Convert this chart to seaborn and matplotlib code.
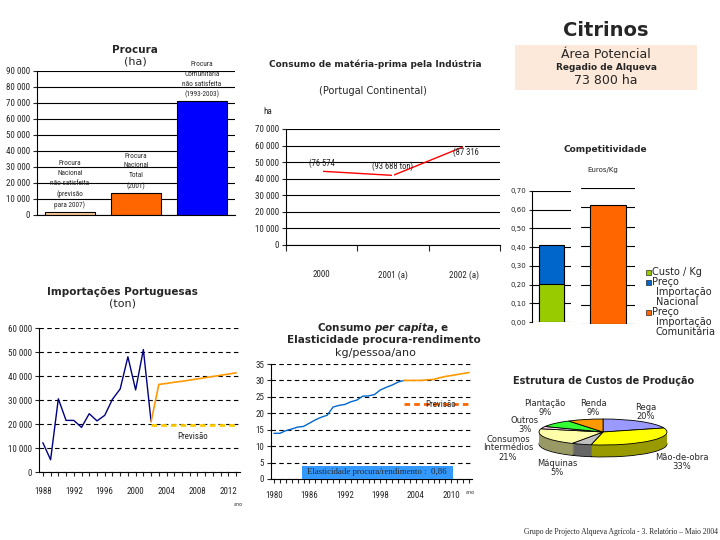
import numpy as np
import pandas as pd
import seaborn as sns
import matplotlib.pyplot as plt
from matplotlib import font_manager
from matplotlib.patches import Rectangle
from matplotlib.ticker import FuncFormatter, MultipleLocator

sns.set_style("white")
plt.rcParams["font.family"] = ["DejaVu Sans"]
SERIF = ["Liberation Serif", "DejaVu Serif"]

# fonte estreita, se houver
_nomes = {f.name for f in font_manager.fontManager.ttflist}
_estreita = next((n for n in ["Liberation Sans Narrow", "DejaVu Sans Condensed",
                              "Roboto Condensed", "Open Sans Condensed", "Noto Sans Condensed"]
                  if n in _nomes), None)
NARROW = [_estreita, "DejaVu Sans"] if _estreita else ["DejaVu Sans"]
NS = 6.5 if _estreita else 5.6

# ---- dados ----
procura_cat = ["Nacional não satisfeita", "Nacional Total", "Comunitária não satisfeita"]
procura_val = [2000, 14000, 71000]
procura_txt = ["Procura\nNacional\nnão satisfeita\n(previsão\npara 2007)",
               "Procura\nNacional\nTotal\n(2001)",
               "Procura\nComunitária\nnão satisfeita\n(1993-2003)"]
procura_cor = ["#FFCC99", "#FF6600", "#0000FF"]

mp_anos = ["2000", "2001 (a)", "2002 (a)"]
mp_val = [44500, 42000, 59500]
mp_txt = ["(76 574", "(93 688 ton)", "(87 316"]

comp_custo = 0.205
comp_nacional = 0.41
comp_comunitaria = 0.615
comp_legenda = ["Custo / Kg", "Preço\nImportação\nNacional", "Preço\nImportação\nComunitária"]
comp_cor = ["#99CC00", "#0066CC", "#FF6600"]

imp_anos = [1988, 1989, 1990, 1991, 1992, 1993, 1994, 1995, 1996, 1997, 1998, 1999, 2000, 2001, 2002]
imp_val = [12200, 5100, 30500, 21500, 21500, 18600, 24300, 21300, 23600, 30300, 34600, 48000, 34200, 51000, 21000]
imp_prev_anos = [2002, 2003, 2004, 2005, 2006, 2007, 2008, 2009, 2010, 2011, 2012, 2013]
imp_prev_alta = [21000, 36500, 36900, 37400, 37800, 38300, 38800, 39300, 39800, 40300, 40800, 41300]
imp_prev_baixa = [19500, 19500, 19500, 19500, 19500, 19500, 19500, 19500, 19500, 19500, 19500, 19500]

pc_anos = [1980, 1981, 1982, 1983, 1984, 1985, 1986, 1987, 1988, 1989, 1990, 1991,
           1992, 1993, 1994, 1995, 1996, 1997, 1998, 1999, 2000, 2001, 2002]
pc_val = [13.9, 13.9, 14.7, 15.2, 15.8, 16.0, 17.0, 18.0, 18.8, 19.4, 21.9, 22.4,
          22.7, 23.5, 24.0, 25.2, 25.3, 25.7, 27.1, 27.9, 28.6, 29.5, 30.0]
pc_prev_anos = [2002, 2003, 2004, 2005, 2006, 2007, 2008, 2009, 2010, 2011, 2012, 2013]
pc_prev_alta = [30.0, 30.0, 30.0, 30.0, 30.2, 30.3, 30.8, 31.2, 31.5, 31.8, 32.1, 32.4]
pc_prev_baixa = [22.7, 22.7, 22.7, 22.7, 22.7, 22.7, 22.7, 22.7, 22.7, 22.7, 22.7, 22.7]

custos_cat = ["Rega", "Mão-de-obra", "Máquinas", "Consumos\nIntermédios", "Outros", "Plantação", "Renda"]
custos_val = [20, 33, 5, 21, 3, 9, 9]
custos_cor = ["#9999FF", "#FFFF00", "#C0C0C0", "#FFFFAA", "#FFCCEE", "#33FF33", "#FF9900"]
custos_lado = ["#5C5C99", "#999900", "#666666", "#999966", "#997A8F", "#1F991F", "#995C00"]

W, H = 720, 540
fig = plt.figure(figsize=(7.2, 5.4), dpi=100)


def px(l, t, r, b):
    return [l / W, 1 - b / H, (r - l) / W, (b - t) / H]


def ftext(x, y, s, **kw):
    kw.setdefault("ha", "center")
    kw.setdefault("va", "center")
    return fig.text(x / W, 1 - y / H, s, **kw)


milhares = FuncFormatter(lambda v, p: f"{v:,.0f}".replace(",", " "))
virgula = FuncFormatter(lambda v, p: f"{v:.2f}".replace(".", ","))


def estilo_eixo(ax):
    for s in ["top", "right"]:
        ax.spines[s].set_visible(False)
    for s in ["left", "bottom"]:
        ax.spines[s].set_color("black")
        ax.spines[s].set_linewidth(0.8)
    ax.set_xlabel("")
    ax.set_ylabel("")


def estreitar(ax):
    for lab in ax.get_yticklabels() + ax.get_xticklabels():
        lab.set_family(NARROW)
        lab.set_fontsize(NS)


# ---- Procura ----
ax = fig.add_axes(px(37, 71, 235, 215))
sns.barplot(x=procura_cat, y=procura_val, hue=procura_cat, palette=procura_cor,
            legend=False, width=0.75, edgecolor="black", linewidth=0.8, saturation=1, ax=ax)
estilo_eixo(ax)
ax.set_ylim(0, 90000)
ax.set_xlim(-0.5, 2.5)
ax.yaxis.set_major_locator(MultipleLocator(10000))
ax.yaxis.set_major_formatter(milhares)
ax.yaxis.grid(True, color="black", lw=0.8)
ax.set_axisbelow(True)
ax.set_xticks([])
ax.tick_params(axis="y", left=True, length=3, width=0.8, pad=2)
estreitar(ax)
for i, (v, t) in enumerate(zip(procura_val, procura_txt)):
    ax.annotate(t, (i, v), xytext=(0, 2), textcoords="offset points", ha="center",
                va="bottom", fontsize=5.2, family=NARROW, linespacing=1.55)
ftext(135, 50, "Procura", fontsize=7.5, weight="bold")
ftext(135, 62, "(ha)", fontsize=8)

# ---- Consumo de matéria-prima ----
ax = fig.add_axes(px(286, 129, 500, 245))
sns.lineplot(x=mp_anos, y=mp_val, sort=False, color="red", lw=1, marker="|",
             markersize=6, mew=1.5, ax=ax)
estilo_eixo(ax)
ax.set_xlim(-0.5, 2.5)
ax.set_ylim(0, 70000)
ax.yaxis.set_major_locator(MultipleLocator(10000))
ax.yaxis.set_major_formatter(milhares)
ax.yaxis.grid(True, color="black", lw=0.8)
ax.set_xticks([0, 1, 2])
ax.set_xticklabels(mp_anos)
ax.set_xticks([-0.5, 0.5, 1.5, 2.5], minor=True)
ax.tick_params(axis="x", which="major", length=0, pad=18)
ax.tick_params(axis="x", which="minor", bottom=True, length=4, width=0.8)
ax.tick_params(axis="y", left=True, length=3, width=0.8, pad=2)
estreitar(ax)
for i, (v, t) in enumerate(zip(mp_val, mp_txt)):
    if i < 2:
        ax.annotate(t, (i, v), xytext=(0, 2 + i), textcoords="offset points", ha="center",
                    va="bottom", fontsize=NS - 0.3, family=NARROW)
    else:
        ax.annotate(t, (i, v), xytext=(1, -1), textcoords="offset points", ha="center",
                    va="top", fontsize=NS - 0.3, family=NARROW)
ftext(375, 64, "Consumo de matéria-prima pela Indústria", fontsize=6.5, weight="bold")
ftext(373, 91, "(Portugal Continental)", fontsize=7)
ftext(268, 112, "ha", fontsize=NS, family=NARROW)

# ---- Citrinos ----
ftext(606, 30, "Citrinos", fontsize=14, weight="bold")
fig.patches.append(Rectangle((515 / W, 1 - 90 / H), 182 / W, 45 / H, transform=fig.transFigure,
                             facecolor="#FDE9D9", edgecolor="none"))
ftext(606, 55, "Área Potencial", fontsize=9)
ftext(606, 68, "Regadio de Alqueva", fontsize=6.5, weight="bold")
ftext(606, 80, "73 800 ha", fontsize=9)

# ---- Competitividade ----
ax = fig.add_axes(px(532, 191, 571, 322))
sns.barplot(x=["Nacional"], y=[comp_nacional], color=comp_cor[1], width=0.62,
            edgecolor="black", linewidth=0.8, saturation=1, ax=ax)
sns.barplot(x=["Nacional"], y=[comp_custo], color=comp_cor[0], width=0.62,
            edgecolor="black", linewidth=0.8, saturation=1, ax=ax)
estilo_eixo(ax)
ax.spines["bottom"].set_visible(False)
ax.set_ylim(0, 0.70)
ax.set_xlim(-0.5, 0.5)
ax.yaxis.set_major_locator(MultipleLocator(0.1))
ax.yaxis.set_major_formatter(virgula)
ax.yaxis.grid(True, color="black", lw=0.8)
ax.set_axisbelow(True)
ax.set_xticks([])
ax.tick_params(axis="y", left=True, length=2, width=0.8, labelsize=5, pad=2)

ax = fig.add_axes(px(581, 188, 635, 324))
sns.barplot(x=["Comunitária"], y=[comp_comunitaria], color=comp_cor[2], width=0.66,
            edgecolor="black", linewidth=0.8, saturation=1, ax=ax)
ax.set_ylim(0, 0.70)
ax.set_xlim(-0.5, 0.5)
ax.yaxis.set_major_locator(MultipleLocator(0.1))
ax.yaxis.grid(True, color="black", lw=0.8)
ax.set_axisbelow(True)
ax.set_xticks([])
ax.set_yticklabels([])
ax.set_xlabel("")
ax.set_ylabel("")
for s in ax.spines.values():
    s.set_visible(False)

ftext(605, 150, "Competitividade", fontsize=6.5, weight="bold")
ftext(603, 170, "Euros/Kg", fontsize=5)
linha = 10
y0 = 267
for t, c in zip(comp_legenda, comp_cor):
    partes = t.split("\n")
    fig.patches.append(Rectangle((646 / W, 1 - (y0 + 8) / H), 5 / W, 5 / H,
                                 transform=fig.transFigure, facecolor=c,
                                 edgecolor="black", linewidth=0.4))
    for k, p in enumerate(partes):
        ftext(652 if k == 0 else 656, y0 + k * linha, p, fontsize=7, ha="left", va="top")
    y0 += linha * len(partes)

# ---- Importações ----
ax = fig.add_axes(px(39, 328, 240, 472))
sns.lineplot(x=imp_anos, y=imp_val, color="#000080", lw=1, ax=ax)
sns.lineplot(x=imp_prev_anos, y=imp_prev_alta, color="#FF9900", lw=1.2, ax=ax)
sns.lineplot(x=imp_prev_anos, y=imp_prev_baixa, color="#FFCC00", lw=2, ls=(0, (2, 1.5)), ax=ax)
estilo_eixo(ax)
ax.set_xlim(1987.5, 2013.5)
ax.set_ylim(0, 60000)
ax.yaxis.set_major_locator(MultipleLocator(10000))
ax.yaxis.set_major_formatter(milhares)
ax.yaxis.grid(True, color="black", lw=0.8, ls=(0, (4, 3)))
ax.set_xticks(range(1988, 2013, 4))
ax.xaxis.set_minor_locator(MultipleLocator(1))
ax.tick_params(axis="x", which="both", bottom=True, length=3, width=0.8, pad=8)
ax.tick_params(axis="y", left=True, length=3, width=0.8, pad=2)
estreitar(ax)
ax.text(2007.4, 14600, "Previsão", ha="center", va="center", fontsize=NS, family=NARROW)
ftext(122, 292, "Importações Portuguesas", fontsize=7.5, weight="bold")
ftext(122, 304, "(ton)", fontsize=8)
ftext(238, 504, "ano", fontsize=3.5)

# ---- Consumo per capita ----
ax = fig.add_axes(px(271, 364, 472, 479))
sns.lineplot(x=pc_anos, y=pc_val, color="#0066CC", lw=1, ax=ax)
sns.lineplot(x=pc_prev_anos, y=pc_prev_alta, color="#FF9900", lw=1.2, ax=ax)
sns.lineplot(x=pc_prev_anos, y=pc_prev_baixa, color="#FF6600", lw=2, ls=(0, (2, 1.5)), ax=ax)
estilo_eixo(ax)
ax.set_xlim(1979.5, 2013.5)
ax.set_ylim(0, 35)
ax.yaxis.set_major_locator(MultipleLocator(5))
ax.yaxis.grid(True, color="black", lw=0.8, ls=(0, (4, 3)))
ax.set_xticks(range(1980, 2011, 6))
ax.xaxis.set_minor_locator(MultipleLocator(1))
ax.tick_params(axis="x", which="both", bottom=True, length=3, width=0.8, pad=6)
ax.tick_params(axis="y", left=True, length=3, width=0.8, pad=2)
estreitar(ax)
ax.text(2008.2, 22.7, "Previsão", ha="center", va="center", fontsize=NS, family=NARROW)
fig.patches.append(Rectangle((302 / W, 1 - 479 / H), 151 / W, 13 / H, transform=fig.transFigure,
                             facecolor="#3399FF", edgecolor="none", zorder=5))
ftext(377, 472.5, "Elasticidade procura/rendimento :  0,86", fontsize=6.3, family=SERIF, zorder=6)
ftext(383, 328, r"Consumo $\mathbfit{per\ capita}$, e", fontsize=7.5, weight="bold")
ftext(384, 340, "Elasticidade procura-rendimento", fontsize=7.5, weight="bold")
ftext(375, 353, "kg/pessoa/ano", fontsize=8)
ftext(470, 493, "ano", fontsize=3.5)

# ---- Estrutura de Custos ----
ax = fig.add_axes(px(523, 410, 683, 465))
camadas = np.linspace(-0.92, -0.02, 16)
for k, cy in enumerate(camadas):
    ax.pie(custos_val, colors=custos_lado, startangle=90, counterclock=False,
           center=(0, cy), radius=1,
           wedgeprops=dict(linewidth=0.6 if k == 0 else 0, edgecolor="black"))
ax.pie(custos_val, colors=custos_cor, startangle=90, counterclock=False,
       center=(0, 0), radius=1, wedgeprops=dict(linewidth=0.6, edgecolor="black"))
ax.set_aspect("auto")
ax.set_xlim(-1.25, 1.25)
ax.set_ylim(-(465 - 432) / 13, (432 - 410) / 13)
ax.axis("off")

ftext(604, 381, "Estrutura de Custos de Produção", fontsize=7, weight="bold")
rotulos = {
    "Plantação\n9%": (545, 408),
    "Renda\n9%": (593, 408),
    "Rega\n20%": (646, 412),
    "Mão-de-obra\n33%": (682, 462),
    "Máquinas\n5%": (557, 468),
    "Consumos\nIntermédios\n21%": (508, 448),
    "Outros\n3%": (525, 425),
}
for t, (x, y) in rotulos.items():
    ftext(x, y, t, fontsize=6, linespacing=1.0)

ftext(718, 532, "Grupo de Projecto Alqueva Agrícola - 3. Relatório – Maio 2004",
      fontsize=5.5, family=SERIF, ha="right")

fig.savefig("out.png", dpi=100)
